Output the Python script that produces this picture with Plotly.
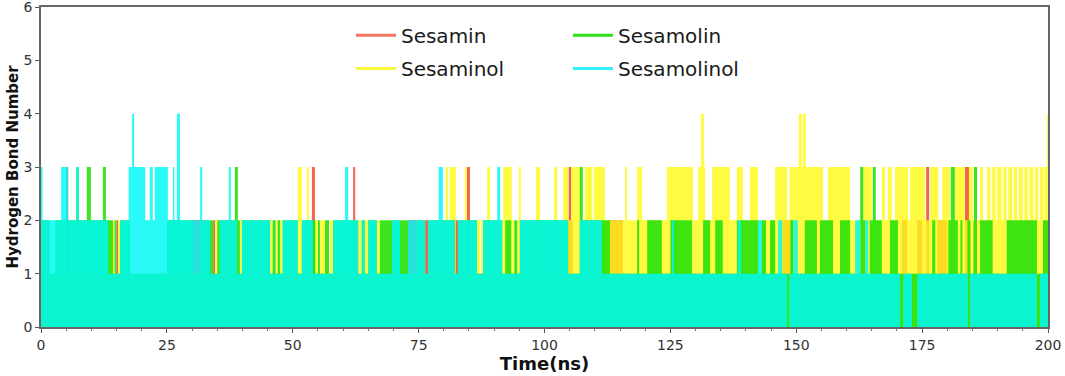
import plotly.graph_objects as go

# ---------------- data ----------------
# Each series: list of (start_ns, end_ns, hbond_number); later entries override earlier ones.
series_names = ["Sesamin", "Sesaminol", "Sesamolin", "Sesamolinol"]

sesamin_segments = [
    (0, 200, 1),
    (15.0, 15.3, 2), (30.2, 31.6, 2), (34.2, 34.6, 2), (72.9, 74.7, 2), (76.3, 76.9, 2),
    (82.2, 82.8, 2), (104.7, 105.6, 2), (113.0, 115.6, 2), (147.2, 148.8, 2),
    (171.0, 172.0, 2), (174.0, 175.0, 2), (178.0, 180.0, 2),
    (5.0, 5.4, 3), (53.8, 54.4, 3), (62.0, 62.4, 3), (84.6, 85.2, 3), (104.8, 105.3, 3),
    (175.8, 176.4, 3), (183.5, 184.3, 3),
]

sesaminol_segments = [
    (0, 111.4, 1), (111.4, 200, 2),
    (14.3, 14.6, 2), (15.3, 15.7, 2), (34.6, 35.0, 2), (39.5, 39.9, 2), (45.5, 46.0, 2),
    (46.6, 47.0, 2), (47.5, 48.0, 2), (54.5, 55.0, 2), (55.4, 56.4, 2), (57.4, 58.0, 2),
    (63.0, 63.7, 2), (64.3, 65.0, 2), (66.7, 67.3, 2), (86.6, 87.2, 2), (87.4, 87.8, 2),
    (91.6, 92.2, 2), (93.4, 94.0, 2), (94.6, 95.1, 2), (104.7, 105.6, 2), (106.0, 107.0, 2),
    (51.0, 51.8, 3), (52.8, 53.2, 3), (80.4, 80.9, 3), (81.2, 82.4, 3), (84.2, 84.6, 3),
    (88.6, 89.2, 3), (91.8, 93.5, 3), (94.9, 95.3, 3), (98.3, 99.1, 3), (101.9, 102.5, 3),
    (103.7, 104.7, 3), (105.3, 107.0, 3), (108.0, 109.5, 3), (109.8, 112.0, 3),
    (116.0, 116.4, 3), (118.4, 119.4, 3), (124.3, 129.5, 3), (130.5, 131.9, 3),
    (133.3, 136.8, 3), (138.2, 139.4, 3), (140.8, 142.4, 3), (145.8, 148.2, 3),
    (148.7, 155.3, 3), (156.3, 160.7, 3), (163.3, 165.0, 3), (167.0, 167.6, 3),
    (168.2, 169.0, 3), (169.6, 172.2, 3), (172.6, 175.6, 3), (176.6, 178.2, 3),
    (179.0, 180.5, 3), (181.5, 183.5, 3), (184.3, 185.1, 3), (186.5, 187.1, 3),
    (187.9, 188.6, 3), (188.9, 189.6, 3), (189.9, 190.8, 3), (191.1, 191.8, 3),
    (192.1, 192.9, 3), (193.2, 193.9, 3), (194.2, 195.0, 3), (195.3, 196.0, 3),
    (196.3, 197.1, 3), (197.4, 198.1, 3), (198.4, 199.1, 3), (199.3, 199.8, 3),
    (131.1, 131.7, 4), (150.5, 151.1, 4), (151.3, 151.9, 4), (199.8, 200.0, 4),
]

sesamolin_segments = [
    (0, 200, 1), (0, 111.4, 2),
    (1.8, 2.8, 1), (14.3, 14.6, 1), (15.0, 15.7, 1), (17.7, 25.0, 1), (30.2, 31.6, 1),
    (34.2, 35.0, 1), (39.5, 39.9, 1), (45.5, 46.0, 1), (46.6, 47.0, 1), (47.5, 48.0, 1),
    (51.0, 51.8, 1), (54.5, 55.0, 1), (55.4, 56.4, 1), (57.2, 58.0, 1), (63.0, 63.7, 1),
    (64.3, 65.0, 1), (66.7, 67.3, 1), (72.9, 74.7, 1), (76.3, 76.9, 1), (82.2, 82.8, 1),
    (86.6, 87.8, 1), (91.6, 92.2, 1), (93.4, 94.0, 1), (94.6, 95.1, 1), (104.7, 107.0, 1),
    (111.4, 113.0, 2), (118.4, 118.8, 2), (120.4, 123.3, 2), (125.0, 129.3, 2),
    (131.5, 132.9, 2), (133.9, 135.4, 2), (138.2, 142.4, 2), (143.2, 144.0, 2),
    (144.8, 145.8, 2), (148.8, 149.4, 2), (151.7, 154.1, 2), (154.7, 157.3, 2),
    (158.7, 160.7, 2), (162.7, 163.7, 2), (164.6, 167.0, 2), (168.6, 170.2, 2),
    (177.0, 177.6, 2), (180.2, 182.1, 2), (182.6, 183.0, 2), (184.0, 184.6, 2),
    (185.2, 185.8, 2), (186.5, 189.0, 2), (191.8, 197.8, 2), (199.0, 200.0, 2),
    (7.0, 7.5, 3), (9.1, 9.9, 3), (12.3, 12.9, 3), (38.5, 39.1, 3), (107.0, 107.6, 3),
    (162.7, 163.3, 3), (165.2, 165.8, 3), (180.7, 181.5, 3), (185.3, 185.9, 3),
]

sesamolinol_segments = [
    (0, 111.4, 2), (111.4, 200, 1),
    (13.3, 15.7, 1), (33.6, 35.5, 1), (38.9, 39.9, 1), (45.5, 48.0, 1), (51.0, 51.8, 1),
    (54.0, 58.0, 1), (63.0, 63.7, 1), (64.3, 65.0, 1), (66.7, 69.7, 1), (71.3, 72.9, 1),
    (76.3, 76.9, 1), (82.2, 82.8, 1), (86.6, 87.8, 1), (91.6, 95.1, 1), (104.7, 107.0, 1),
    (125.3, 125.7, 2), (138.4, 139.0, 2), (142.4, 143.2, 2), (146.4, 147.2, 2),
    (149.4, 150.3, 2), (161.7, 162.7, 2), (163.7, 164.3, 2),
    (148.2, 148.6, 0), (170.6, 171.2, 0), (173.0, 174.0, 0), (184.1, 184.5, 0), (197.8, 198.4, 0),
    (0.0, 0.3, 3), (4.0, 5.4, 3), (7.0, 7.5, 3), (17.4, 20.7, 3), (21.6, 22.2, 3),
    (22.6, 25.2, 3), (26.2, 26.5, 3), (27.0, 27.6, 3), (31.6, 32.0, 3), (37.3, 37.7, 3),
    (60.4, 61.0, 3), (79.0, 79.8, 3), (90.6, 91.2, 3),
    (18.1, 18.5, 4), (27.0, 27.6, 4),
]

x_ticks = [0, 25, 50, 75, 100, 125, 150, 175, 200]
y_ticks = [0, 1, 2, 3, 4, 5, 6]

# ---------------- styling ----------------
fill_colors = ["rgba(240,100,80,1)", "rgba(255,250,20,0.8)",
               "rgba(40,225,10,0.9)", "rgba(0,248,245,0.84)"]
legend_colors = ["#f2775f", "#fafa3c", "#2ee01a", "#33f2ff"]


def to_steps(segments):
    pts = sorted({p for s in segments for p in s[:2]})
    xs, ys = [], []
    for a, b in zip(pts[:-1], pts[1:]):
        mid = (a + b) / 2
        val = 0
        for s, e, v in segments:
            if s <= mid < e:
                val = v
        xs.append(a)
        ys.append(val)
    xs.append(pts[-1])
    ys.append(ys[-1])
    return xs, ys


all_segments = [sesamin_segments, sesaminol_segments, sesamolin_segments, sesamolinol_segments]

fig = go.Figure()
for name, segs, fc in zip(series_names, all_segments, fill_colors):
    xs, ys = to_steps(segs)
    fig.add_trace(go.Scatter(x=xs, y=ys, mode="lines", line=dict(shape="hv", width=0, color=fc),
                             fill="tozeroy", fillcolor=fc, showlegend=False, hoverinfo="skip",
                             name=name))

# legend entries (two rows, two columns)
legend_rows = {"Sesamin": "legend", "Sesamolin": "legend",
               "Sesaminol": "legend2", "Sesamolinol": "legend2"}
for name in ["Sesamin", "Sesamolin", "Sesaminol", "Sesamolinol"]:
    c = legend_colors[series_names.index(name)]
    fig.add_trace(go.Scatter(x=[None], y=[None], mode="lines", name=name,
                             line=dict(color=c, width=3), legend=legend_rows[name]))

leg_common = dict(orientation="h", xanchor="left", yanchor="middle",
                  font=dict(family="DejaVu Sans", size=20, color="#1a1a1a"),
                  bgcolor="rgba(0,0,0,0)", entrywidth=162, entrywidthmode="pixels",
                  itemwidth=40, tracegroupgap=0)

fig.update_layout(
    width=1065, height=376,
    margin=dict(l=41, r=17, t=7, b=49, autoexpand=False),
    paper_bgcolor="white", plot_bgcolor="white",
    font=dict(family="DejaVu Sans", color="#222"),
    legend=dict(x=0.3078, y=0.912, **leg_common),
    legend2=dict(x=0.3078, y=0.808, **leg_common),
    xaxis=dict(range=[0, 200], tickvals=x_ticks, ticks="outside", ticklen=4, tickcolor="#555",
               showgrid=False, zeroline=False, showline=True, linecolor="#666", linewidth=1.5,
               mirror=True, tickfont=dict(size=14, color="#333"), automargin=False,
               ticklabeloverflow="allow",
               minor=dict(dtick=5, ticks="outside", ticklen=2.5, tickcolor="#777"),
               title=dict(text="<b>Time(ns)</b>", font=dict(size=18, color="#111"), standoff=2)),
    yaxis=dict(range=[0, 6], tickvals=y_ticks, ticks="outside", ticklen=4, tickcolor="#555",
               showgrid=False, zeroline=False, showline=True, linecolor="#666", linewidth=1.5,
               mirror=True, tickfont=dict(size=14, color="#333"), automargin=False,
               ticklabeloverflow="allow",
               title=dict(text="<b>Hydrogen Bond Number</b>", font=dict(size=15, color="#111"),
                          standoff=1)),
)

fig.write_html("out.html", config={"displayModeBar": False},
               post_script="document.body.style.margin='0px';document.body.style.overflow='hidden';")
